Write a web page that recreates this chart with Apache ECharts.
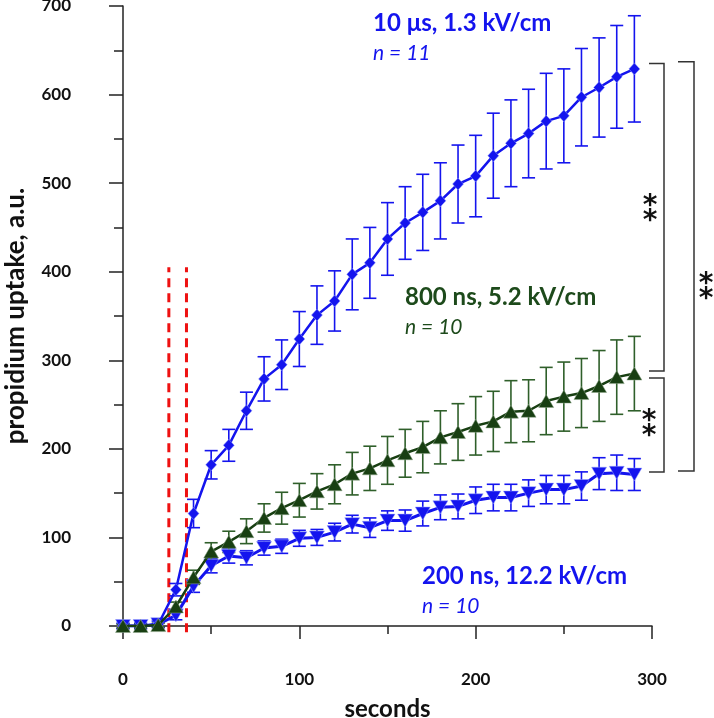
<!DOCTYPE html>
<html>
<head>
<meta charset="utf-8">
<script src="https://cdn.jsdelivr.net/npm/echarts@6/dist/echarts.min.js"></script>
<style>
html,body{margin:0;padding:0;background:#fff;}
#chart{width:714px;height:718px;}
</style>
</head>
<body>
<div id="chart"></div>
<script>
// ---- data ----
const times = [0,10,20,30,40,50,60,70,80,90,100,110,120,130,140,150,160,170,180,190,200,210,220,230,240,250,260,270,280,290];
const us10 = [0,0,2,41,127,182,204,243,279,295,324,351,367,397,410,437,455,467,480,499,508,531,545,556,570,576,597,608,620,629];
const us10Err = [3,3,4,7,16,16,18,21,25,28,31,33,34,40,40,41,41,43,43,44,46,48,49,50,54,53,55,56,58,60];
const ns800 = [0,0,1,22,55,84,95,107,122,133,142,152,160,172,178,187,195,202,213,219,226,231,242,243,254,259,263,271,281,285];
const ns800Err = [2,2,2,5,8,10,12,14,16,18,19,20,22,24,25,27,27,29,30,32,33,34,35,35,38,39,39,40,42,42];
const ns200 = [0,0,2,12,45,68,79,77,88,90,99,100,106,115,111,119,119,127,134,135,142,145,145,150,154,154,158,172,173,171];
const ns200Err = [3,3,3,5,7,8,8,8,8,8,9,9,10,10,11,11,12,14,14,14,15,15,15,15,16,16,16,18,20,18];
const pulseTimes = [26, 36];
const pulseRange = [-7, 405];
const xTicks = [0, 100, 200, 300];
const yTicks = [0, 100, 200, 300, 400, 500, 600, 700];
const labels = {
  us10: ['10 \u03bcs, 1.3 kV/cm', 'n = 11'],
  ns800: ['800 ns, 5.2 kV/cm', 'n = 10'],
  ns200: ['200 ns, 12.2 kV/cm', 'n = 10']
};
// bracket data-levels: [top, bottom]
const brackets = [
  [635, 288],
  [280, 174],
  [637, 175]
];

const BLUE = '#1414EE';
const GREEN = '#183F12';
const GREEN_ERR = '#2F5F2A';
const GREEN_TXT = '#1D4A1B';
const RED = '#EE1111';
const FONT = 'Lato';

function pairs(ys, errs){ return times.map((t,i)=>[t, ys[i], errs[i]]); }

function errRender(color, capW, lw){
  return function(params, api){
    const x = api.value(0), y = api.value(1), e = api.value(2);
    const hi = api.coord([x, y + e]);
    const lo = api.coord([x, y - e]);
    const st = {stroke: color, lineWidth: lw};
    return {type:'group', children:[
      {type:'line', shape:{x1:hi[0], y1:hi[1], x2:lo[0], y2:lo[1]}, style:st},
      {type:'line', shape:{x1:hi[0]-capW/2, y1:hi[1], x2:hi[0]+capW/2, y2:hi[1]}, style:st},
      {type:'line', shape:{x1:lo[0]-capW/2, y1:lo[1], x2:lo[0]+capW/2, y2:lo[1]}, style:st}
    ]};
  };
}

function pulseRender(params, api){
  const t = api.value(0);
  const a = api.coord([t, api.value(1)]);
  const b = api.coord([t, api.value(2)]);
  return {type:'line', shape:{x1:a[0], y1:a[1], x2:b[0], y2:b[1]},
    style:{stroke:RED, lineWidth:3, lineDash:[9,6]}};
}

const chart = echarts.init(document.getElementById('chart'), null, {renderer:'canvas'});

const axisText = {color:'#111', fontWeight:'bold', fontSize:17, fontFamily:FONT};

const option = {
  animation:false,
  backgroundColor:'#fff',
  grid:{left:123, right:62, top:6, bottom:92, containLabel:false, outerBoundsMode:'none'},
  xAxis:{
    type:'value', min:0, max:300, interval:100, offset:24,
    name:'seconds', nameLocation:'middle', nameGap:47,
    nameTextStyle:{color:'#111', fontWeight:'bold', fontSize:24, fontFamily:FONT},
    axisLine:{show:true, lineStyle:{color:'#222', width:1.5}},
    axisTick:{show:true, length:13, lineStyle:{color:'#222', width:1.5}},
    minorTick:{show:true, splitNumber:2, length:8, lineStyle:{color:'#222', width:1.5}},
    splitLine:{show:false},
    axisLabel:Object.assign({margin:21, formatter:v=>xTicks.includes(v)?String(v):''}, axisText)
  },
  yAxis:{
    type:'value', min:0, max:700, interval:100, offset:32,
    name:'propidium uptake, a.u.', nameLocation:'middle', nameGap:62,
    nameTextStyle:{color:'#111', fontWeight:'bold', fontSize:26, fontFamily:FONT},
    axisLine:{show:true, lineStyle:{color:'#222', width:1.5}},
    axisTick:{show:true, length:14, lineStyle:{color:'#222', width:1.5}},
    minorTick:{show:true, splitNumber:2, length:9, lineStyle:{color:'#222', width:1.5}},
    splitLine:{show:false},
    axisLabel:Object.assign({margin:20, formatter:v=>yTicks.includes(v)?String(v):''}, axisText)
  },
  series:[
    {type:'custom', name:'pulses', renderItem:pulseRender, data:pulseTimes.map(t=>[t, pulseRange[0], pulseRange[1]]), z:1, silent:true},
    {type:'custom', name:'err200', renderItem:errRender(BLUE, 13, 1.6), data:pairs(ns200, ns200Err), z:2, silent:true},
    {type:'custom', name:'err10', renderItem:errRender(BLUE, 13, 1.6), data:pairs(us10, us10Err), z:2, silent:true},
    {type:'custom', name:'err800', renderItem:errRender(GREEN_ERR, 13, 1.6), data:pairs(ns800, ns800Err), z:2, silent:true},
    {type:'line', name:'200 ns', data:times.map((t,i)=>[t, ns200[i]]), z:3,
      symbol:'triangle', symbolRotate:180, symbolSize:[15,13],
      lineStyle:{color:BLUE, width:3}, itemStyle:{color:BLUE, borderColor:'#9aa6ff', borderWidth:0.5}},
    {type:'line', name:'10 us', data:times.map((t,i)=>[t, us10[i]]), z:4,
      symbol:'diamond', symbolSize:[11,12],
      lineStyle:{color:BLUE, width:2.5}, itemStyle:{color:BLUE, borderColor:'#9aa6ff', borderWidth:0.5}},
    {type:'line', name:'800 ns', data:times.map((t,i)=>[t, ns800[i]]), z:5,
      symbol:'triangle', symbolSize:[15,13],
      lineStyle:{color:GREEN, width:2.5}, itemStyle:{color:GREEN, borderColor:'#8fa88a', borderWidth:0.5}}
  ]
};
chart.setOption(option);

// ---- annotations placed through the axes' scales ----
function py(v){ return chart.convertToPixel({xAxisIndex:0, yAxisIndex:0}, [0, v])[1]; }

const g = [];
const bx = [[649,664],[649,664],[678,694]];
const starX = [650, 649, 706];
const starShift = [-7, 0, 22];
brackets.forEach((b, i)=>{
  const y1 = py(b[0]), y2 = py(b[1]);
  const [x1, x2] = bx[i];
  g.push({type:'polyline', shape:{points:[[x1,y1],[x2,y1],[x2,y2],[x1,y2]]},
    style:{stroke:'#333', lineWidth:1.5, fill:null}});
  const mid = (y1 + y2) / 2 + starShift[i];
  [-7.5, 7.5].forEach(d=>{
    g.push({type:'text', x:starX[i], y:mid + d + 4,
      style:{text:'*', fill:'#111', font:'bold 28px "DejaVu Sans"', align:'center', verticalAlign:'middle'}});
  });
});

function addLabel(txt, sub, color, x, y){
  g.push({type:'text', x:x, y:y, style:{text:txt, fill:color, font:'bold 24px ' + FONT, align:'left', verticalAlign:'middle'}});
  g.push({type:'text', x:x, y:y + 30, style:{text:sub, fill:color, font:'italic 21px ' + FONT, align:'left', verticalAlign:'middle'}});
}
addLabel(labels.us10[0], labels.us10[1], BLUE, 373, 23);
addLabel(labels.ns800[0], labels.ns800[1], GREEN_TXT, 405, 297);
addLabel(labels.ns200[0], labels.ns200[1], BLUE, 422, 576);

chart.setOption({graphic:{elements:g}});
</script>
</body>
</html>
